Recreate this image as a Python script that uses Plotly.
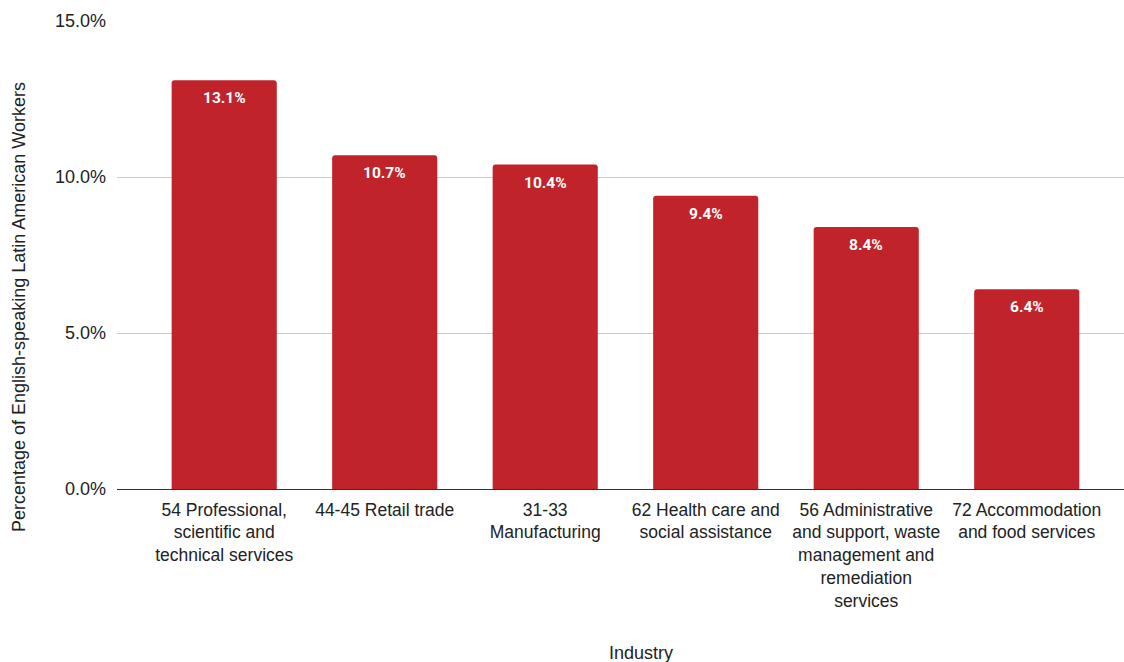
import plotly.graph_objects as go

categories = [
    "54 Professional,<br>scientific and<br>technical services",
    "44-45 Retail trade",
    "31-33<br>Manufacturing",
    "62 Health care and<br>social assistance",
    "56 Administrative<br>and support, waste<br>management and<br>remediation<br>services",
    "72 Accommodation<br>and food services",
]
values = [0.131, 0.107, 0.104, 0.094, 0.084, 0.064]
labels = ["13.1%", "10.7%", "10.4%", "9.4%", "8.4%", "6.4%"]
y_ticks = [0, 0.05, 0.10, 0.15]
y_ticklabels = ["0.0%", "5.0%", "10.0%", "15.0%"]

BAR = "#C0242A"
FONT = "Liberation Sans, Arial, sans-serif"
W, H = 1124, 662
ml, mr, mt, mb = 117, 0, 21, 173
pw, ph = W - ml - mr, H - mt - mb

fig = go.Figure()
fig.add_trace(go.Bar(
    x=categories, y=values,
    marker=dict(color=BAR, line=dict(width=0), cornerradius=3),
    hoverinfo="skip",
))

for c, v, t in zip(categories, values, labels):
    fig.add_annotation(
        x=c, y=v, xref="x", yref="y", text="<b>" + t + "</b>",
        showarrow=False, yanchor="top", yshift=-7,
        font=dict(family="Roboto, sans-serif", size=15.5, color="white"),
    )

fig.add_annotation(
    x=(641 - ml) / pw, y=(H - mb - 653) / ph, xref="paper", yref="paper",
    text="Industry", showarrow=False, xanchor="center", yanchor="middle",
    font=dict(family=FONT, size=18, color="#222"),
)
fig.add_annotation(
    x=(19 - ml) / pw, y=(H - mb - 307) / ph, xref="paper", yref="paper",
    text="Percentage of English-speaking Latin American Workers", textangle=-90,
    showarrow=False, xanchor="center", yanchor="middle",
    font=dict(family=FONT, size=18, color="#222"),
)

fig.update_layout(
    width=W, height=H,
    margin=dict(l=ml, r=mr, t=mt, b=mb, pad=0),
    paper_bgcolor="white", plot_bgcolor="white",
    bargap=0.345,
    showlegend=False,
    font=dict(family=FONT, size=16, color="#222"),
    xaxis=dict(
        type="category", range=[-0.668, 5.606],
        showgrid=False, ticks="", showline=False,
        tickfont=dict(family=FONT, size=17.5, color="#222"),
        tickangle=0, automargin=False, ticklabelstandoff=8,
    ),
    yaxis=dict(
        range=[0, 0.15], tickvals=y_ticks, ticktext=y_ticklabels,
        showgrid=True, gridcolor="#cccccc", gridwidth=1,
        zeroline=True, zerolinecolor="#333333", zerolinewidth=1,
        ticks="", ticklabelstandoff=10,
        tickfont=dict(family=FONT, size=18, color="#222"),
        automargin=False,
    ),
)

fig.write_html("out.html")
